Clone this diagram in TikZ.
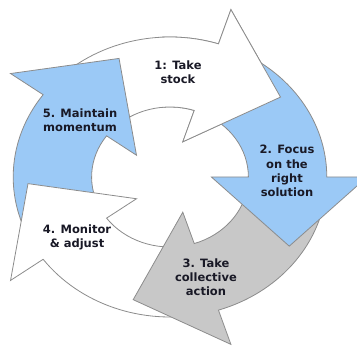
\documentclass[tikz,border=0pt]{standalone}
\usepackage{fontspec}
\setmainfont{DejaVu Sans}
\definecolor{cyblue}{RGB}{155,201,246}
\definecolor{cygray}{RGB}{200,200,200}
\definecolor{cyline}{RGB}{140,140,140}
\definecolor{cytext}{RGB}{25,25,38}
\newcommand\cyclearrow[2]{%
  \pgfmathsetmacro\cyA{#1+66}%
  \pgfmathsetmacro\cyT{#1-33}%
  \draw[arrowbox,#2] (\cyA:156.8pt and 140pt)
    arc[start angle=\cyA, end angle=#1, x radius=156.8pt, y radius=140pt]
    -- (#1:197.1pt and 176pt)
    -- (\cyT:142.2pt and 127pt)
    -- (#1:41.4pt and 37pt)
    -- (#1:78.4pt and 70pt)
    arc[start angle=#1, end angle=\cyA, x radius=78.4pt, y radius=70pt]
    -- cycle;
}
\tikzset{
  arrowbox/.style={draw=cyline, line width=0.8pt, line join=miter},
  label/.style={align=center, text=cytext, font=\bfseries\fontsize{11.5}{14.2}\selectfont},
}
\begin{document}
\begin{tikzpicture}[x=1pt,y=1pt]
\useasboundingbox (0,0) rectangle (357,347);
\begin{scope}[shift={(170,170)}]
  \cyclearrow{72}{fill=white}
  \cyclearrow{144}{fill=cyblue}
  \cyclearrow{-144}{fill=white}
  \cyclearrow{-72}{fill=cygray}
  \cyclearrow{0}{fill=cyblue}
  \begin{scope}
    \clip (-10,-200) rectangle (200,200);
    \cyclearrow{72}{fill=white}
  \end{scope}
\end{scope}
\node[label] (t1) at (178,275) {1: Take\\stock};
\node[label] (t2) at (287,176) {2. Focus\\on the\\right\\solution};
\node[label] (t3) at (206,70) {3. Take\\collective\\action};
\node[label] (t4) at (77,110) {4. Monitor\\\& adjust};
\node[label] (t5) at (80,227) {5. Maintain\\momentum};
\end{tikzpicture}
\end{document}
